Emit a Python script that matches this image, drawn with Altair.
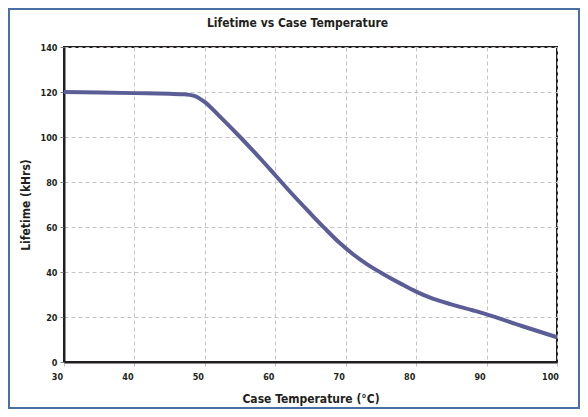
import altair as alt
import pandas as pd

temps = [30, 35, 40, 45, 47, 48.5, 50, 52, 55, 58, 60, 62, 65, 67, 69, 71, 73, 75, 78, 80, 82, 85, 88, 90, 95, 100]
life = [120, 119.8, 119.5, 119.2, 119, 118.3, 115.5, 109.5, 100, 90, 83, 76, 66, 59.5, 53.3, 48, 43.5, 39.7, 34.5, 31.3, 28.6, 25.6, 23, 21.2, 16, 11]

x_ticks = [30, 40, 50, 60, 70, 80, 90, 100]
y_ticks = [0, 20, 40, 60, 80, 100, 120, 140]

df = pd.DataFrame({"temp": temps, "life": life})

FONT = "Liberation Sans Narrow, DejaVu Sans Condensed, Arial Narrow, sans-serif"
DARK = "#231f20"

W, H = 493, 315
PL, PT, PR, PB = 56, 39, 23, 47

line = alt.Chart(df).mark_line(color="#5b5d97", strokeWidth=4, interpolate="monotone").encode(
    x=alt.X("temp:Q", scale=alt.Scale(domain=[30, 100], nice=False),
            axis=alt.Axis(values=x_ticks, title="Case Temperature (°C)", labelOffset=-7,
                          labelFlush=False, labelPadding=6, tickSize=4, tickColor="#bfbfbf",
                          tickDash=[4, 3], titlePadding=12)),
    y=alt.Y("life:Q", scale=alt.Scale(domain=[0, 140], nice=False),
            axis=alt.Axis(values=y_ticks, title="Lifetime (kHrs)", tickSize=4, tickColor="#888888",
                          labelPadding=3, titlePadding=8)),
)

border = alt.Chart(pd.DataFrame({"a": [0]})).mark_rect(
    fillOpacity=0, stroke="#4a6fa5", strokeWidth=2, clip=False
).encode(
    x=alt.value(-PL + 1), x2=alt.value(W + PR - 1),
    y=alt.value(-PT + 1), y2=alt.value(H + PB - 1),
)

chart = alt.layer(border, line).properties(
    width=W, height=H,
    autosize=alt.AutoSizeParams(type="none"),
    padding={"left": PL, "top": PT, "right": PR, "bottom": PB},
    title=alt.TitleParams("Lifetime vs Case Temperature", font=FONT, fontSize=12,
                          fontWeight="bold", color=DARK, offset=0, dy=22, dx=-13),
).configure_view(
    stroke=DARK, strokeWidth=2
).configure_axis(
    labelFont=FONT, labelFontSize=9, labelFontWeight="bold", labelColor=DARK,
    titleFont=FONT, titleFontSize=12, titleFontWeight="bold", titleColor=DARK,
    domainColor=DARK, domainWidth=2,
    gridColor="#c4c4c4", gridDash=[4, 3], gridWidth=1,
)

chart.save("out.html", embed_options={"renderer": "svg", "actions": False})
